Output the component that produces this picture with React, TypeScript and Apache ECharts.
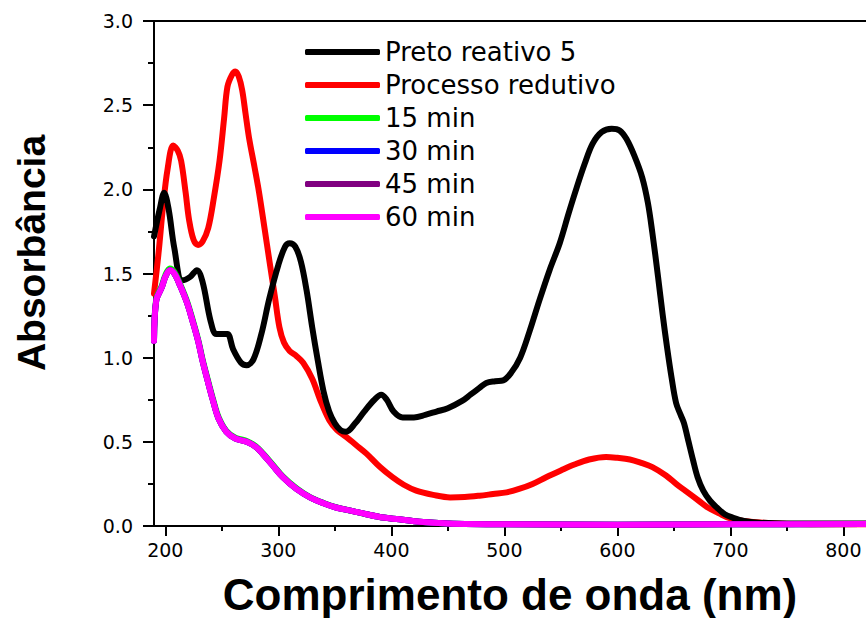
import React, { useEffect, useRef } from "react";
import * as echarts from "echarts";

// Wavelength (nm) / absorbance pairs
const blackX = [190, 195, 199, 203, 208, 215, 222, 228, 233, 240, 245, 250, 255, 260, 267, 272, 278, 285, 292, 300, 306, 310, 315, 320, 325, 330, 335, 340, 345, 350, 355, 360, 368, 376, 385, 391, 396, 402, 410, 420, 430, 440, 450, 463, 470, 478, 484, 492, 499, 506, 514, 522, 531, 540, 549, 557, 564, 571, 578, 586, 595, 602, 608, 615, 622, 627, 631, 636, 640, 644, 648, 652, 656, 659, 663, 667, 671, 676, 682, 688, 695, 702, 712, 725, 750, 780, 820];
const blackY = [1.72, 1.88, 1.98, 1.88, 1.65, 1.46, 1.48, 1.52, 1.45, 1.22, 1.14, 1.14, 1.14, 1.05, 0.97, 0.955, 0.99, 1.14, 1.35, 1.55, 1.66, 1.68, 1.66, 1.57, 1.4, 1.18, 0.98, 0.8, 0.68, 0.61, 0.57, 0.56, 0.61, 0.68, 0.75, 0.78, 0.75, 0.68, 0.645, 0.645, 0.66, 0.68, 0.7, 0.745, 0.78, 0.82, 0.85, 0.86, 0.865, 0.91, 1.0, 1.15, 1.34, 1.52, 1.68, 1.86, 2.01, 2.15, 2.27, 2.34, 2.36, 2.35, 2.3, 2.2, 2.07, 1.92, 1.74, 1.48, 1.26, 1.06, 0.88, 0.73, 0.66, 0.61, 0.5, 0.39, 0.29, 0.21, 0.15, 0.11, 0.07, 0.05, 0.03, 0.02, 0.015, 0.015, 0.015];

const redX = [190, 194, 198, 202, 207, 211, 214, 218, 221, 225, 229, 233, 238, 243, 248, 252, 255, 259, 262, 265, 268, 271, 274, 279, 283, 288, 292, 297, 301, 305, 310, 316, 322, 330, 337, 345, 352, 360, 369, 378, 390, 401, 411, 422, 437, 452, 465, 478, 490, 502, 513, 525, 537, 550, 562, 575, 590, 600, 611, 621, 631, 643, 652, 660, 672, 680, 690, 700, 712, 729, 760, 820];
const redY = [1.38, 1.62, 1.9, 2.12, 2.26, 2.23, 2.17, 1.98, 1.82, 1.7, 1.67, 1.69, 1.77, 1.95, 2.17, 2.42, 2.61, 2.68, 2.7, 2.67, 2.59, 2.45, 2.31, 2.13, 1.98, 1.76, 1.58, 1.36, 1.18, 1.09, 1.04, 1.01, 0.97, 0.875, 0.75, 0.63, 0.57, 0.53, 0.48, 0.43, 0.35, 0.29, 0.245, 0.21, 0.185, 0.17, 0.172, 0.18, 0.19, 0.2, 0.22, 0.25, 0.29, 0.33, 0.365, 0.395, 0.41, 0.405, 0.395, 0.375, 0.35, 0.3, 0.25, 0.21, 0.15, 0.11, 0.075, 0.045, 0.03, 0.02, 0.012, 0.01];

const timeX = [190, 192, 197, 200, 204, 208, 213, 219, 224, 229, 233, 238, 242, 247, 254, 262, 272, 280, 286, 295, 304, 316, 328, 340, 351, 365, 378, 393, 407, 425, 450, 500, 600, 700, 820];
const min15Y = [1.11, 1.35, 1.43, 1.49, 1.53, 1.51, 1.44, 1.34, 1.23, 1.11, 0.99, 0.86, 0.76, 0.65, 0.565, 0.525, 0.505, 0.475, 0.435, 0.365, 0.295, 0.225, 0.172, 0.137, 0.112, 0.09, 0.07, 0.05, 0.04, 0.025, 0.015, 0.01, 0.008, 0.01, 0.012];
const min30Y = [1.1, 1.34, 1.42, 1.48, 1.52, 1.5, 1.43, 1.33, 1.22, 1.1, 0.98, 0.85, 0.75, 0.64, 0.56, 0.52, 0.5, 0.47, 0.43, 0.36, 0.29, 0.22, 0.17, 0.135, 0.11, 0.09, 0.07, 0.05, 0.04, 0.025, 0.015, 0.01, 0.008, 0.01, 0.012];
const min45Y = [1.1, 1.34, 1.42, 1.48, 1.52, 1.5, 1.43, 1.33, 1.22, 1.1, 0.98, 0.85, 0.75, 0.64, 0.56, 0.52, 0.5, 0.47, 0.43, 0.36, 0.29, 0.22, 0.17, 0.135, 0.11, 0.09, 0.07, 0.05, 0.04, 0.025, 0.015, 0.01, 0.008, 0.01, 0.012];
const min60Y = [1.1, 1.34, 1.42, 1.48, 1.52, 1.5, 1.43, 1.33, 1.22, 1.1, 0.98, 0.85, 0.75, 0.64, 0.56, 0.52, 0.5, 0.47, 0.43, 0.36, 0.29, 0.22, 0.17, 0.135, 0.11, 0.09, 0.07, 0.05, 0.04, 0.025, 0.015, 0.01, 0.008, 0.01, 0.012];

const seriesNames = ["Preto reativo 5", "Processo redutivo", "15 min", "30 min", "45 min", "60 min"];
const majorXTicks = [200, 300, 400, 500, 600, 700, 800];
const minorXTicks = [250, 350, 450, 550, 650, 750];

const zip = (xs: number[], ys: number[]) => xs.map((x, i) => [x, ys[i]]);

export default function App() {
  const ref = useRef<HTMLDivElement>(null);
  useEffect(() => {
    if (!ref.current) return;
    const chart = echarts.init(ref.current, undefined, { renderer: "svg" });
    const lineSeries = (name: string, color: string, data: number[][]) => ({
      name,
      type: "line",
      data,
      xAxisIndex: 0,
      yAxisIndex: 0,
      showSymbol: false,
      symbol: "none",
      smooth: 0.35,
      lineStyle: { color, width: 6, cap: "round", join: "round" },
      itemStyle: { color },
    });
    chart.setOption({
      animation: false,
      backgroundColor: "#ffffff",
      grid: { left: 154, right: 0, top: 21, bottom: 92, containLabel: false, outerBoundsMode: "none" },
      legend: {
        data: seriesNames,
        orient: "vertical",
        left: 300,
        top: 34,
        padding: 5,
        itemWidth: 75,
        itemHeight: 6,
        itemGap: 7,
        icon: "roundRect",
        textStyle: { fontFamily: "DejaVu Sans", fontSize: 26, color: "#000", lineHeight: 25 },
      },
      xAxis: [
        {
          type: "value",
          position: "bottom",
          min: 190,
          max: 820,
          splitLine: { show: false },
          axisLine: { show: true, onZero: false, lineStyle: { color: "#000", width: 2 } },
          axisTick: { show: true, inside: false, length: 10, customValues: majorXTicks, lineStyle: { color: "#000", width: 2 } },
          axisLabel: { customValues: majorXTicks, margin: 14, fontFamily: "DejaVu Sans", fontSize: 19, color: "#000" },
          name: "Comprimento de onda (nm)",
          nameLocation: "middle",
          nameGap: 46,
          nameTextStyle: { fontFamily: "Liberation Sans", fontWeight: "bold", fontSize: 44, color: "#000" },
        },
        {
          type: "value",
          position: "bottom",
          min: 190,
          max: 820,
          splitLine: { show: false },
          axisLine: { show: false, onZero: false },
          axisTick: { show: true, length: 5, customValues: minorXTicks, lineStyle: { color: "#000", width: 2 } },
          axisLabel: { show: false },
        },
        {
          type: "value",
          position: "top",
          min: 190,
          max: 820,
          splitLine: { show: false },
          axisLine: { show: true, onZero: false, lineStyle: { color: "#000", width: 2 } },
          axisTick: { show: false },
          axisLabel: { show: false },
        },
      ],
      yAxis: {
        type: "value",
        min: 0,
        max: 3,
        interval: 0.5,
        splitLine: { show: false },
        axisLine: { show: true, onZero: false, lineStyle: { color: "#000", width: 2 } },
        axisTick: { show: true, length: 11, lineStyle: { color: "#000", width: 2 } },
        minorTick: { show: true, splitNumber: 2, length: 6, lineStyle: { color: "#000", width: 2 } },
        minorSplitLine: { show: false },
        axisLabel: {
          margin: 21,
          fontFamily: "DejaVu Sans",
          fontSize: 19,
          color: "#000",
          formatter: (v: number) => v.toFixed(1),
        },
      },
      graphic: [
        {
          type: "text",
          x: 31,
          y: 253,
          rotation: Math.PI / 2,
          style: {
            text: "Absorbância",
            font: "bold 39px 'Liberation Sans'",
            fill: "#000",
            textAlign: "center",
            textVerticalAlign: "middle",
          },
        },
      ],
      series: [
        lineSeries(seriesNames[1], "#ff0000", zip(redX, redY)),
        lineSeries(seriesNames[0], "#000000", zip(blackX, blackY)),
        lineSeries(seriesNames[2], "#00ff00", zip(timeX, min15Y)),
        lineSeries(seriesNames[3], "#0000ff", zip(timeX, min30Y)),
        lineSeries(seriesNames[4], "#800080", zip(timeX, min45Y)),
        lineSeries(seriesNames[5], "#ff00ff", zip(timeX, min60Y)),
      ],
    });
    return () => chart.dispose();
  }, []);
  return <div ref={ref} style={{ width: 866, height: 618, position: "absolute", left: 0, top: 0 }} />;
}
